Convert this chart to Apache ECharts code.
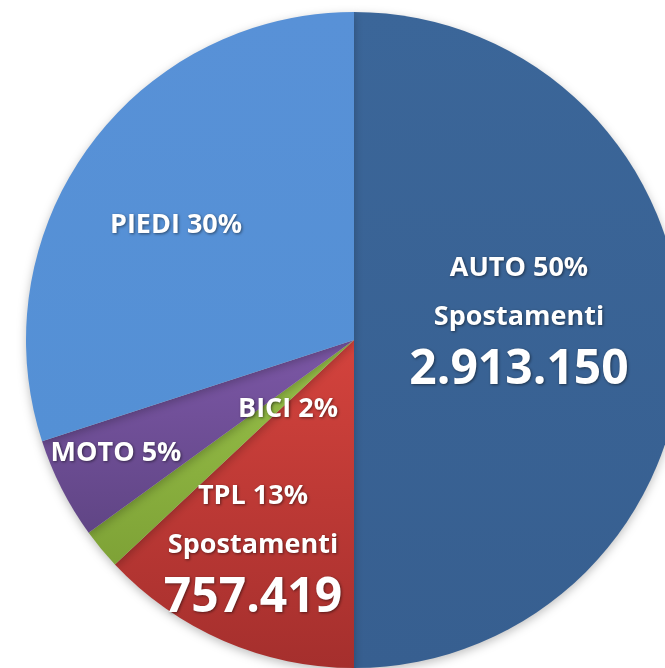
<!DOCTYPE html>
<html>
<head>
<meta charset="utf-8">
<script src="https://cdn.jsdelivr.net/npm/echarts@6/dist/echarts.min.js"></script>
<style>
  html,body{margin:0;padding:0;background:#fff;}
  #chart{width:665px;height:668px;}
</style>
</head>
<body>
<div id="chart"></div>
<script>
var categories = ['AUTO', 'TPL', 'BICI', 'MOTO', 'PIEDI'];
var percents = [50, 13, 2, 5, 30];
var trips = [2913150, 757419, null, null, null];

// slice colours, top -> bottom of the gradient
var colors = [
  ['#3b6699', '#375f90'],
  ['#d4433d', '#a52f2d'],
  ['#99c24a', '#7ea236'],
  ['#7c57a6', '#604585'],
  ['#5891d7', '#5490d5']
];
// label anchor (centre of the text block) per slice
var labelPos = [[519, 321], [253, 549], [288, 409], [116, 453], [176, 225]];

function fmt(n) {
  return String(n).replace(/\B(?=(\d{3})+(?!\d))/g, '.');
}

var chart = echarts.init(document.getElementById('chart'));

var data = [];
for (var i = 0; i < categories.length; i++) {
  data.push({
    name: categories[i],
    value: percents[i],
    itemStyle: {
      color: {
        type: 'linear', x: 0, y: 0, x2: 0, y2: 1,
        colorStops: [
          {offset: 0, color: colors[i][0]},
          {offset: 1, color: colors[i][1]}
        ]
      }
    }
  });
}

var txtShadow = {
  textShadowColor: 'rgba(0,0,0,0.5)', textShadowBlur: 3,
  textShadowOffsetX: 1, textShadowOffsetY: 1
};

var option = {
  animation: false,
  series: [{
    type: 'pie',
    center: [354, 340],
    radius: 328,
    startAngle: 90,
    clockwise: true,
    data: data,
    itemStyle: {
      shadowBlur: 10,
      shadowOffsetY: 3,
      shadowColor: 'rgba(0,0,0,0.25)'
    },
    emphasis: {disabled: true},
    labelLine: {show: false},
    label: {
      show: true,
      position: 'inside',
      color: '#fff',
      fontFamily: 'Open Sans',
      fontWeight: 'bold',
      formatter: function (p) {
        var t = trips[p.dataIndex];
        var s = '{a|' + p.name + ' ' + p.value + '%}';
        if (t) {
          s += '\n{a|Spostamenti}\n{b|' + fmt(t) + '}';
        }
        return s;
      },
      rich: {
        a: Object.assign({
          fontSize: 27, fontFamily: 'Open Sans', fontWeight: 'bold', color: '#fff',
          lineHeight: 49
        }, txtShadow),
        b: Object.assign({
          fontSize: 48, fontFamily: 'Open Sans', fontWeight: 'bold', color: '#fff',
          lineHeight: 57
        }, txtShadow)
      }
    },
    labelLayout: function (p) {
      var pos = labelPos[p.dataIndex];
      return {x: pos[0], y: pos[1], align: 'center', verticalAlign: 'middle'};
    }
  }]
};

chart.setOption(option);
</script>
</body>
</html>
